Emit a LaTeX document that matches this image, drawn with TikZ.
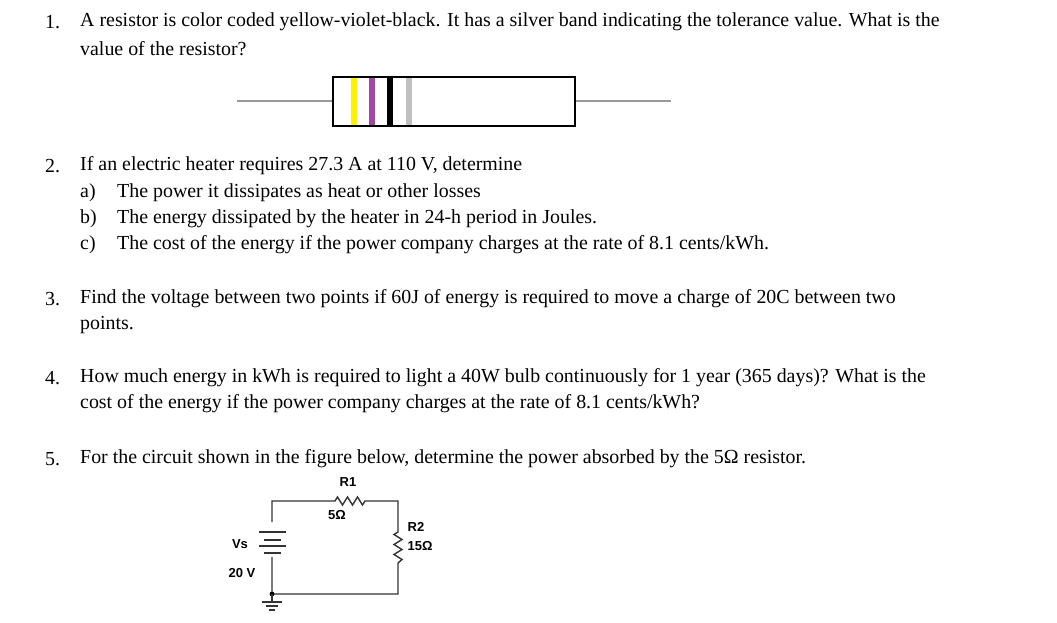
\documentclass[tikz,border=0pt]{standalone}
\usepackage{fontspec}
\setmainfont{Liberation Serif}
\setsansfont{Liberation Sans}
\definecolor{vio}{HTML}{A545A5}
\begin{document}
\begin{tikzpicture}[x=1pt,y=-1pt,
  txt/.style={anchor=west,inner sep=0pt,font=\fontsize{19.9}{22}\selectfont},
  lab/.style={inner sep=0pt,font=\sffamily\bfseries\fontsize{13}{15}\selectfont},
  wire/.style={line width=1.4pt,draw=black!80},
  band/.style={line width=6pt}]
\useasboundingbox (0,0) rectangle (1057,623);
% texts
\begin{scope}[yshift=-2pt]
\node[txt] (n1) at (45,20) {1.};
\node[txt] (t1) at (80,20) {A resistor is color coded yellow-violet-black. It has a silver band indicating the tolerance value. What is the};
\node[txt] (t1b) at (80,47) {value of the resistor?};
\node[txt] (n2) at (45,164) {2.};
\node[txt] (t2) at (80,164) {If an electric heater requires 27.3 A at 110 V, determine};
\node[txt] (a) at (80,191) {a)};\node[txt] (ta) at (117,191) {The power it dissipates as heat or other losses};
\node[txt] (b) at (80,217) {b)};\node[txt] (tb) at (117,217) {The energy dissipated by the heater in 24-h period in Joules.};
\node[txt] (c) at (80,243) {c)};\node[txt] (tc) at (117,243) {The cost of the energy if the power company charges at the rate of 8.1 cents/kWh.};
\node[txt] (n3) at (45,297) {3.};
\node[txt] (t3) at (80,297) {Find the voltage between two points if 60J of energy is required to move a charge of 20C between two};
\node[txt] (t3b) at (80,323) {points.};
\node[txt] (n4) at (45,376) {4.};
\node[txt] (t4) at (80,376) {How much energy in kWh is required to light a 40W bulb continuously for 1 year (365 days)? What is the};
\node[txt] (t4b) at (80,402) {cost of the energy if the power company charges at the rate of 8.1 cents/kWh?};
\node[txt] (n5) at (45,457) {5.};
\node[txt] (t5) at (80,457) {For the circuit shown in the figure below, determine the power absorbed by the 5Ω resistor.};
\end{scope}
% resistor
\coordinate (l0) at (237,101); \coordinate (l1) at (333,101);
\coordinate (r0) at (575,101); \coordinate (r1) at (671,101);
\draw[gray!80,line width=2pt] (l0)--(l1) (r0)--(r1);
\draw[band,yellow] (354,78)--(354,125);
\draw[band,vio] (372,78)--(372,125);
\draw[band,black] (390,78)--(390,125);
\draw[band,gray!50] (409,78)--(409,125);
\node[draw,line width=2.2pt,minimum width=242pt,minimum height=49pt,inner sep=0pt] (body) at (454,101.5) {};
% circuit
\coordinate (tl) at (272,501); \coordinate (tr) at (398,501);
\coordinate (bl) at (272,594); \coordinate (br) at (398,594);
\draw[wire] (272,522)--(tl)--(335,501)--(337.5,497)--(342.5,505)--(347.5,497)--(352.5,505)--(357.5,497)--(362.5,505)--(365,501)--(tr)--(398,532)
 --(394,534.5)--(402,539.5)--(394,544.5)--(402,549.5)--(394,554.5)--(402,559.5)--(398,563)--(br)--(bl)--(272,557);
\draw[wire] (259,532)--(286,532) (264,540)--(281,540) (259,546)--(286,546) (264,553)--(281,553);
\fill (bl) circle (2.4);
\draw[wire] (bl)--(272,602) (262,602)--(282,602) (266,606)--(278,606) (269,610)--(275,610);
\node[lab] (r1l) at (348,482) {R1};
\node[lab] (r1v) at (337,515) {5Ω};
\node[lab] (r2l) at (416,527) {R2};
\node[lab] (r2v) at (420,546) {15Ω};
\node[lab] (vs) at (240,544) {Vs};
\node[lab] (vv) at (242,573) {20 V};
\end{tikzpicture}
\end{document}
